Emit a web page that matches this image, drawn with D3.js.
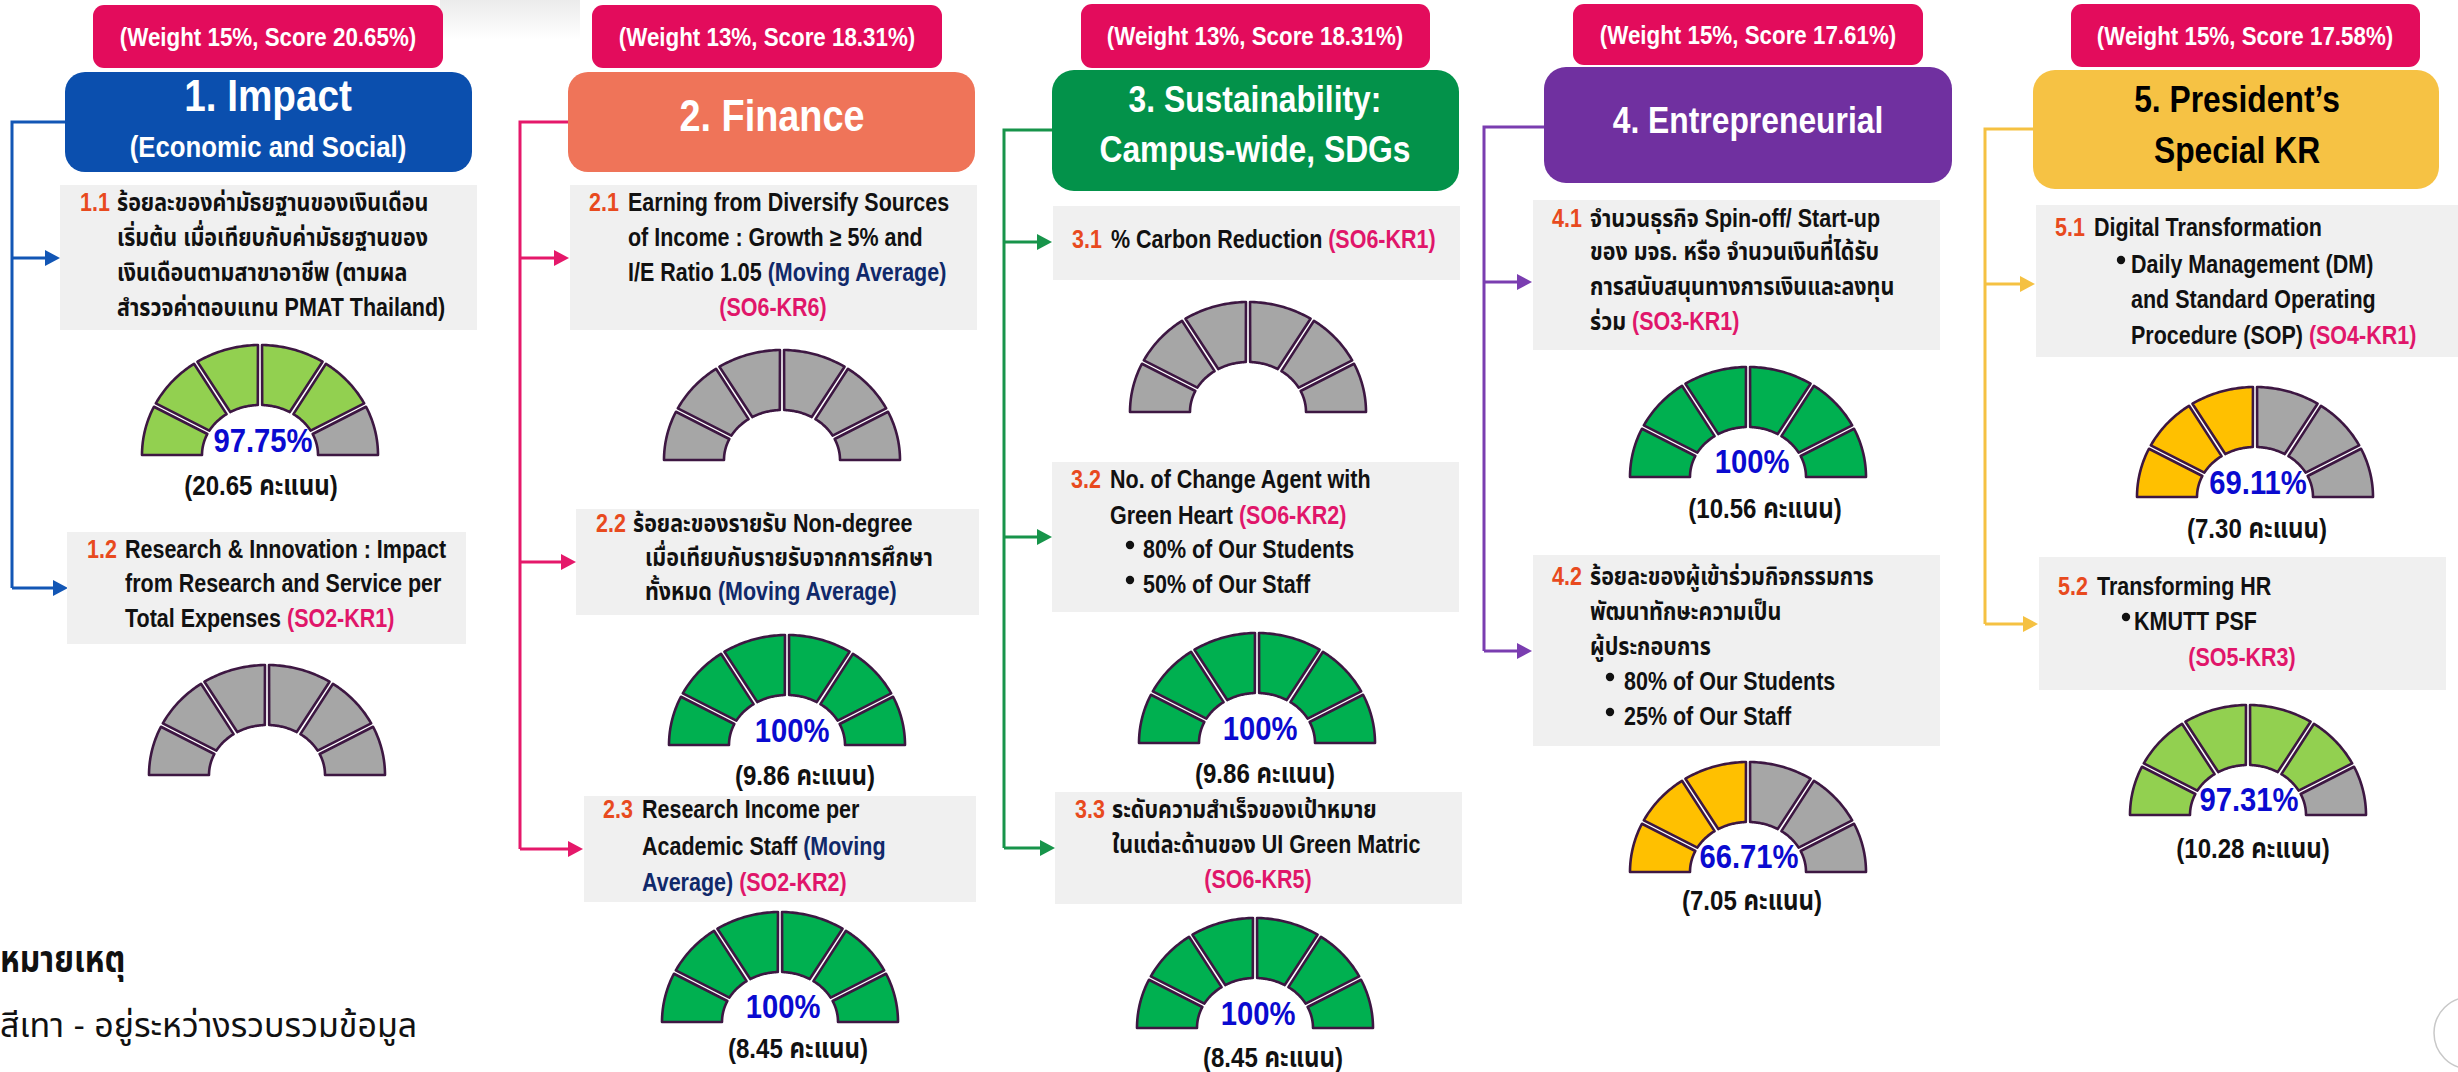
<!DOCTYPE html>
<html><head><meta charset="utf-8">
<script src="https://cdn.jsdelivr.net/npm/d3@7"></script>
<style>body{margin:0;background:#fff;overflow:hidden}svg{display:block}text{white-space:pre}</style>
</head><body>
<svg id="c" width="2458" height="1072"></svg>
<script>
// ---------------- DATA ----------------
const weightLabels = ["(Weight 15%, Score 20.65%)", "(Weight 13%, Score 18.31%)", "(Weight 13%, Score 18.31%)", "(Weight 15%, Score 17.61%)", "(Weight 15%, Score 17.58%)"];
const headerLines = [["1. Impact", "(Economic and Social)"], ["2. Finance"], ["3. Sustainability:", "Campus-wide, SDGs"], ["4. Entrepreneurial"], ["5. President’s", "Special KR"]];
const krIds = ["1.1", "1.2", "2.1", "2.2", "2.3", "3.1", "3.2", "3.3", "4.1", "4.2", "5.1", "5.2"];
const krLines = [
  [[["ร้อยละของค่ามัธยฐานของเงินเดือน","t"]],[["เริ่มต้น เมื่อเทียบกับค่ามัธยฐานของ","t"]],[["เงินเดือนตามสาขาอาชีพ (ตามผล","t"]],[["สำรวจค่าตอบแทน PMAT Thailand)","t"]]],
  [[["Research & Innovation : Impact","t"]],[["from Research and Service per","t"]],[["Total Expenses ","t"],["(SO2-KR1)","so"]]],
  [[["Earning from Diversify Sources","t"]],[["of Income : Growth ≥ 5% and","t"]],[["I/E Ratio 1.05 ","t"],["(Moving Average)","ma"]],[["(SO6-KR6)","so"]]],
  [[["ร้อยละของรายรับ Non-degree","t"]],[["เมื่อเทียบกับรายรับจากการศึกษา","t"]],[["ทั้งหมด ","t"],["(Moving Average)","ma"]]],
  [[["Research Income per","t"]],[["Academic Staff ","t"],["(Moving","ma"]],[["Average)","ma"],[" ","t"],["(SO2-KR2)","so"]]],
  [[["% Carbon Reduction ","t"],["(SO6-KR1)","so"]]],
  [[["No. of Change Agent with","t"]],[["Green Heart ","t"],["(SO6-KR2)","so"]],[["•","b"],["80% of Our Students","t"]],[["•","b"],["50% of Our Staff","t"]]],
  [[["ระดับความสำเร็จของเป้าหมาย","t"]],[["ในแต่ละด้านของ UI Green Matric","t"]],[["(SO6-KR5)","so"]]],
  [[["จำนวนธุรกิจ Spin-off/ Start-up","t"]],[["ของ มจธ. หรือ จำนวนเงินที่ได้รับ","t"]],[["การสนับสนุนทางการเงินและลงทุน","t"]],[["ร่วม ","t"],["(SO3-KR1)","so"]]],
  [[["ร้อยละของผู้เข้าร่วมกิจกรรมการ","t"]],[["พัฒนาทักษะความเป็น","t"]],[["ผู้ประกอบการ","t"]],[["•","b"],["80% of Our Students","t"]],[["•","b"],["25% of Our Staff","t"]]],
  [[["Digital Transformation","t"]],[["•","b"],["Daily Management (DM)","t"]],[["and Standard Operating","t"]],[["Procedure (SOP) ","t"],["(SO4-KR1)","so"]]],
  [[["Transforming HR","t"]],[["•","b"],["KMUTT PSF","t"]],[["(SO5-KR3)","so"]]]
];
const gaugePct = ["97.75%", null, null, "100%", "100%", null, "100%", "100%", "100%", "66.71%", "69.11%", "97.31%"];
const gaugeScore = ["(20.65 คะแนน)", null, null, "(9.86 คะแนน)", "(8.45 คะแนน)", null, "(9.86 คะแนน)", "(8.45 คะแนน)", "(10.56 คะแนน)", "(7.05 คะแนน)", "(7.30 คะแนน)", "(10.28 คะแนน)"];
const gaugeFilled = [5, 0, 0, 6, 6, 0, 6, 6, 6, 3, 3, 5];
const gaugeTone = ["lightgreen", "grey", "grey", "green", "green", "grey", "green", "green", "green", "yellow", "yellow", "lightgreen"];
const segmentBounds = [0, 27, 57, 90, 123, 153, 180];
const noteTitle = "หมายเหตุ";
const noteText = "สีเทา - อยู่ระหว่างรวบรวมข้อมูล";

// ---------------- STYLE / LAYOUT ----------------
const FONT = "'Liberation Sans', Arial, 'Noto Sans Thai', 'Noto Sans', Loma, Garuda, sans-serif";
const SX = 0.86;
const textColors = {t:"#111111", id:"#e84a1e", so:"#e0166a", ma:"#10296a", b:"#111111"};
const toneColors = {lightgreen:"#92d050", green:"#00b050", yellow:"#ffc000", grey:"#a6a6a6"};
const pinkLabel = "#e30c5c";

const colLayout = [
  {wr:[93,5,350,63], wc:268, hr:[65,72,407,100,20], hf:"#0b4fae", htc:"#fff", hl:[[268,111,45],[268,157,30]],
   cc:"#1256b5", cx:12, cy0:122, cy1:588, chx:65, arrows:[[60,258],[68,588]]},
  {wr:[592,5,350,63], wc:767, hr:[568,72,407,100,20], hf:"#ef7459", htc:"#fff", hl:[[772,131,44]],
   cc:"#e5186a", cx:520, cy0:122, cy1:849, chx:568, arrows:[[569,258],[576,562],[583,849]]},
  {wr:[1081,4,349,64], wc:1255, hr:[1052,70,407,121,22], hf:"#03924a", htc:"#fff", hl:[[1255,112,37],[1255,162,37]],
   cc:"#17944a", cx:1004, cy0:130, cy1:848, chx:1052, arrows:[[1052,242],[1052,537],[1055,848]]},
  {wr:[1573,4,350,61], wc:1748, hr:[1544,67,408,116,22], hf:"#7030a0", htc:"#fff", hl:[[1748,133,37]],
   cc:"#7a3db0", cx:1484, cy0:127, cy1:651, chx:1544, arrows:[[1532,282],[1532,651]]},
  {wr:[2071,4,349,63], wc:2245, hr:[2033,70,406,119,22], hf:"#f6c244", htc:"#000", hl:[[2237,112,37],[2237,163,37]],
   cc:"#f5c142", cx:1985, cy0:129, cy1:624, chx:2033, arrows:[[2035,284],[2038,624]]}
];
// box: [x,y,w,h], idX, base (baselines), lx (line x; negative => centered at |x|), bullet x
const krLayout = [
  {box:[60,185,417,145], idX:80, base:[211,246,281,316], lx:[117,117,117,117]},
  {box:[67,532,399,112], idX:87, base:[558,592,627], lx:[125,125,125]},
  {box:[570,185,407,145], idX:589, base:[211,246,281,316], lx:[628,628,628,-773]},
  {box:[576,509,403,106], idX:596, base:[532,566,600], lx:[633,645,645]},
  {box:[584,796,392,106], idX:603, base:[818,855,891], lx:[642,642,642]},
  {box:[1053,206,407,74], idX:1072, base:[248], lx:[1111]},
  {box:[1052,462,407,150], idX:1071, base:[488,524,558,593], lx:[1110,1110,1143,1143], bx:1126},
  {box:[1055,792,407,112], idX:1075, base:[818,853,888], lx:[1112,1112,-1258]},
  {box:[1533,200,407,150], idX:1552, base:[227,260,295,330], lx:[1590,1590,1590,1590]},
  {box:[1533,555,407,191], idX:1552, base:[585,620,655,690,725], lx:[1590,1590,1590,1624,1624], bx:1606},
  {box:[2036,205,422,152], idX:2055, base:[236,273,308,344], lx:[2094,2131,2131,2131], bx:2117},
  {box:[2039,557,407,133], idX:2058, base:[595,630,666], lx:[2097,2134,-2242], bx:2122}
];
// gauge: centre (bottom middle), pct text pos, score text pos
const gaugeLayout = [
  [260,455,263,452,261,495],[267,775],[782,460],[787,745,792,742,805,785],[780,1022,783,1018,798,1058],
  [1248,412],[1257,743,1260,740,1265,783],[1255,1028,1258,1025,1273,1067],
  [1748,477,1752,473,1765,518],[1748,872,1749,868,1752,910],[2255,497,2258,494,2257,538],[2248,815,2249,811,2253,858]
];
const RO = {rx:118, ry:110}, RI = {rx:58, ry:50}, GAP = 3.8;

// ---------------- DRAW ----------------
const svg = d3.select("#c");
const defs = svg.append("defs");
const lg = defs.append("linearGradient").attr("id","shadow").attr("x1",0).attr("x2",0).attr("y1",0).attr("y2",1);
lg.append("stop").attr("offset","0%").attr("stop-color","#e6e6e6");
lg.append("stop").attr("offset","100%").attr("stop-color","#ffffff");
svg.append("rect").attr("x",440).attr("y",0).attr("width",140).attr("height",40).attr("fill","url(#shadow)").attr("opacity",0.8);

function addText(g, x, y, parts, size, anchor, weight, fill, sx) {
  const t = g.append("text")
    .attr("transform", `translate(${x},${y}) scale(${sx || SX},1)`)
    .attr("font-family", FONT).attr("font-size", size)
    .attr("font-weight", weight || "bold")
    .attr("text-anchor", anchor || "start")
    .attr("fill", fill || "#111");
  parts.forEach(([s, k]) => t.append("tspan").text(s).attr("fill", k ? textColors[k] : (fill || "#111")));
  return t;
}

// columns: weight labels, headers, connectors
colLayout.forEach((c, i) => {
  const g = svg.append("g");
  g.append("rect").attr("x",c.wr[0]).attr("y",c.wr[1]).attr("width",c.wr[2]).attr("height",c.wr[3]).attr("rx",11).attr("fill",pinkLabel);
  addText(g, c.wc, c.wr[1] + c.wr[3]/2 + 9, [[weightLabels[i], null]], 26, "middle", "bold", "#fff");
  const p = d3.path();
  p.moveTo(c.chx, c.cy0); p.lineTo(c.cx, c.cy0); p.lineTo(c.cx, c.cy1);
  c.arrows.forEach(([ax, ay]) => { p.moveTo(c.cx, ay); p.lineTo(ax - 12, ay); });
  g.append("path").attr("d", p.toString()).attr("fill","none").attr("stroke",c.cc).attr("stroke-width",3);
  c.arrows.forEach(([ax, ay]) => {
    g.append("path").attr("d", d3.line()([[ax, ay],[ax-15, ay-8],[ax-15, ay+8]]) + "Z").attr("fill", c.cc);
  });
  g.append("rect").attr("x",c.hr[0]).attr("y",c.hr[1]).attr("width",c.hr[2]).attr("height",c.hr[3]).attr("rx",c.hr[4]).attr("fill",c.hf);
  headerLines[i].forEach((ln, j) => addText(g, c.hl[j][0], c.hl[j][1], [[ln, null]], c.hl[j][2], "middle", "bold", c.htc));
});

// KR boxes
krIds.forEach((id, i) => {
  const L = krLayout[i];
  const g = svg.append("g");
  g.append("rect").attr("x",L.box[0]).attr("y",L.box[1]).attr("width",L.box[2]).attr("height",L.box[3]).attr("fill","#f0f0f0");
  addText(g, L.idX, L.base[0], [[id, "id"]], 25, "start", "bold");
  krLines[i].forEach((ln, j) => {
    let parts = ln, x = L.lx[j], anchor = "start";
    if (x < 0) { x = -x; anchor = "middle"; }
    if (ln[0][1] === "b") {
      g.append("circle").attr("cx", L.bx + 4).attr("cy", L.base[j] - 13).attr("r", 4.2).attr("fill", "#111");
      parts = ln.slice(1);
    }
    addText(g, x, L.base[j], parts, 25, anchor, "bold");
  });
});

// Gauges
const angleOf = d3.scaleLinear().domain(d3.range(segmentBounds.length)).range(segmentBounds);
function ellPt(r, deg) { const a = deg * Math.PI / 180; return [-r.rx * Math.cos(a), -r.ry * Math.sin(a)]; }
function segPath(k) {
  const a0 = angleOf(k), a1 = angleOf(k + 1);
  const dO = (GAP/2) / RO.ry * 180 / Math.PI, dI = (GAP/2) / RI.ry * 180 / Math.PI;
  const o0 = a0 === 0 ? 0 : a0 + dO, o1 = a1 === 180 ? 180 : a1 - dO;
  const i0 = a0 === 0 ? 0 : a0 + dI, i1 = a1 === 180 ? 180 : a1 - dI;
  const pts = [];
  d3.range(31).forEach(n => pts.push(ellPt(RO, o0 + (o1 - o0) * n / 30)));
  d3.range(31).forEach(n => pts.push(ellPt(RI, i1 + (i0 - i1) * n / 30)));
  return d3.line()(pts) + "Z";
}
gaugeLayout.forEach((G, i) => {
  const g = svg.append("g");
  const gg = g.append("g").attr("transform", `translate(${G[0]},${G[1]})`);
  gg.selectAll("path").data(d3.range(segmentBounds.length - 1)).join("path")
    .attr("d", k => segPath(k))
    .attr("fill", k => k < gaugeFilled[i] ? toneColors[gaugeTone[i]] : toneColors.grey)
    .attr("stroke", "#3d1742").attr("stroke-width", 2.6).attr("stroke-linejoin", "round");
  if (gaugePct[i]) addText(g, G[2], G[3], [[gaugePct[i], null]], 34, "middle", "bold", "#0a0ad0");
  if (gaugeScore[i]) addText(g, G[4], G[5], [[gaugeScore[i], null]], 28, "middle", "bold", "#111");
});

// Note
addText(svg, 0, 972, [[noteTitle, null]], 37, "start", "bold", "#111");
addText(svg, 0, 1037, [[noteText, null]], 34, "start", "normal", "#111", 1);

// corner decoration
svg.append("circle").attr("cx", 2470).attr("cy", 1033).attr("r", 36).attr("fill", "#fff").attr("stroke", "#c8c8c8").attr("stroke-width", 1.5);
</script>
</body></html>
